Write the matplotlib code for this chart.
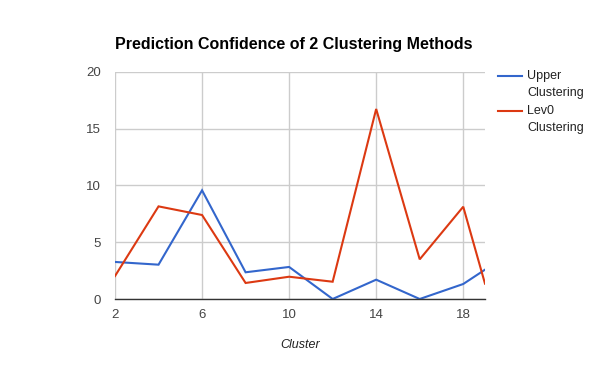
import matplotlib
matplotlib.use("Agg")
import matplotlib.pyplot as plt

plt.rcParams['font.family'] = ['Liberation Sans', 'DejaVu Sans']

clusters = [2, 4, 6, 8, 10, 12, 14, 16, 18, 19]
upper = [3.26, 3.02, 9.56, 2.35, 2.82, 0.0, 1.70, 0.0, 1.32, 2.58]
lev0 = [2.02, 8.15, 7.39, 1.41, 1.96, 1.52, 16.72, 3.49, 8.12, 1.35]
x_ticks = [2, 6, 10, 14, 18]
y_ticks = [0, 5, 10, 15, 20]

fig = plt.figure(figsize=(6, 3.71), dpi=100)
ax = fig.add_axes([115 / 600, 1 - 299 / 371, 370 / 600, 227.3 / 371])

ax.plot(clusters, upper, color='#3366cc', lw=1.5, solid_joinstyle='miter')
ax.plot(clusters, lev0, color='#dc3912', lw=1.5, solid_joinstyle='miter')

ax.set_xlim(2, 19)
ax.set_ylim(0, 20)
ax.set_xticks(x_ticks)
ax.set_yticks(y_ticks)
ax.grid(True, color='#cccccc', lw=1)
ax.set_axisbelow(True)
for s in ['top', 'right', 'left']:
    ax.spines[s].set_visible(False)
ax.spines['bottom'].set_color('#333333')
ax.spines['bottom'].set_linewidth(1)
ax.spines['bottom'].set_zorder(3)
ax.tick_params(length=0, labelsize=9.5, labelcolor='#444444')
ax.tick_params(axis='y', pad=10)
ax.tick_params(axis='x', pad=7)

fig.text(115 / 600, 1 - 45 / 371, 'Prediction Confidence of 2 Clustering Methods',
         fontsize=11.5, fontweight='bold', color='#000000', ha='left', va='center')
fig.text(300 / 600, 1 - 345 / 371, 'Cluster', fontsize=9, style='italic',
         color='#222222', ha='center', va='center')

# legend drawn by hand to get the wrapped labels
leg = [('#3366cc', 'Upper', 76), ('#dc3912', 'Lev0', 111)]
for col, name, yy in leg:
    fig.add_artist(plt.Line2D([498 / 600, 522 / 600], [1 - yy / 371] * 2, color=col, lw=1.5))
    fig.text(527 / 600, 1 - yy / 371, name, fontsize=9, color='#222222', va='center')
    fig.text(527 / 600, 1 - (yy + 17) / 371, 'Clustering', fontsize=9, color='#222222', va='center')

fig.savefig('out.png', dpi=100, facecolor='white')
